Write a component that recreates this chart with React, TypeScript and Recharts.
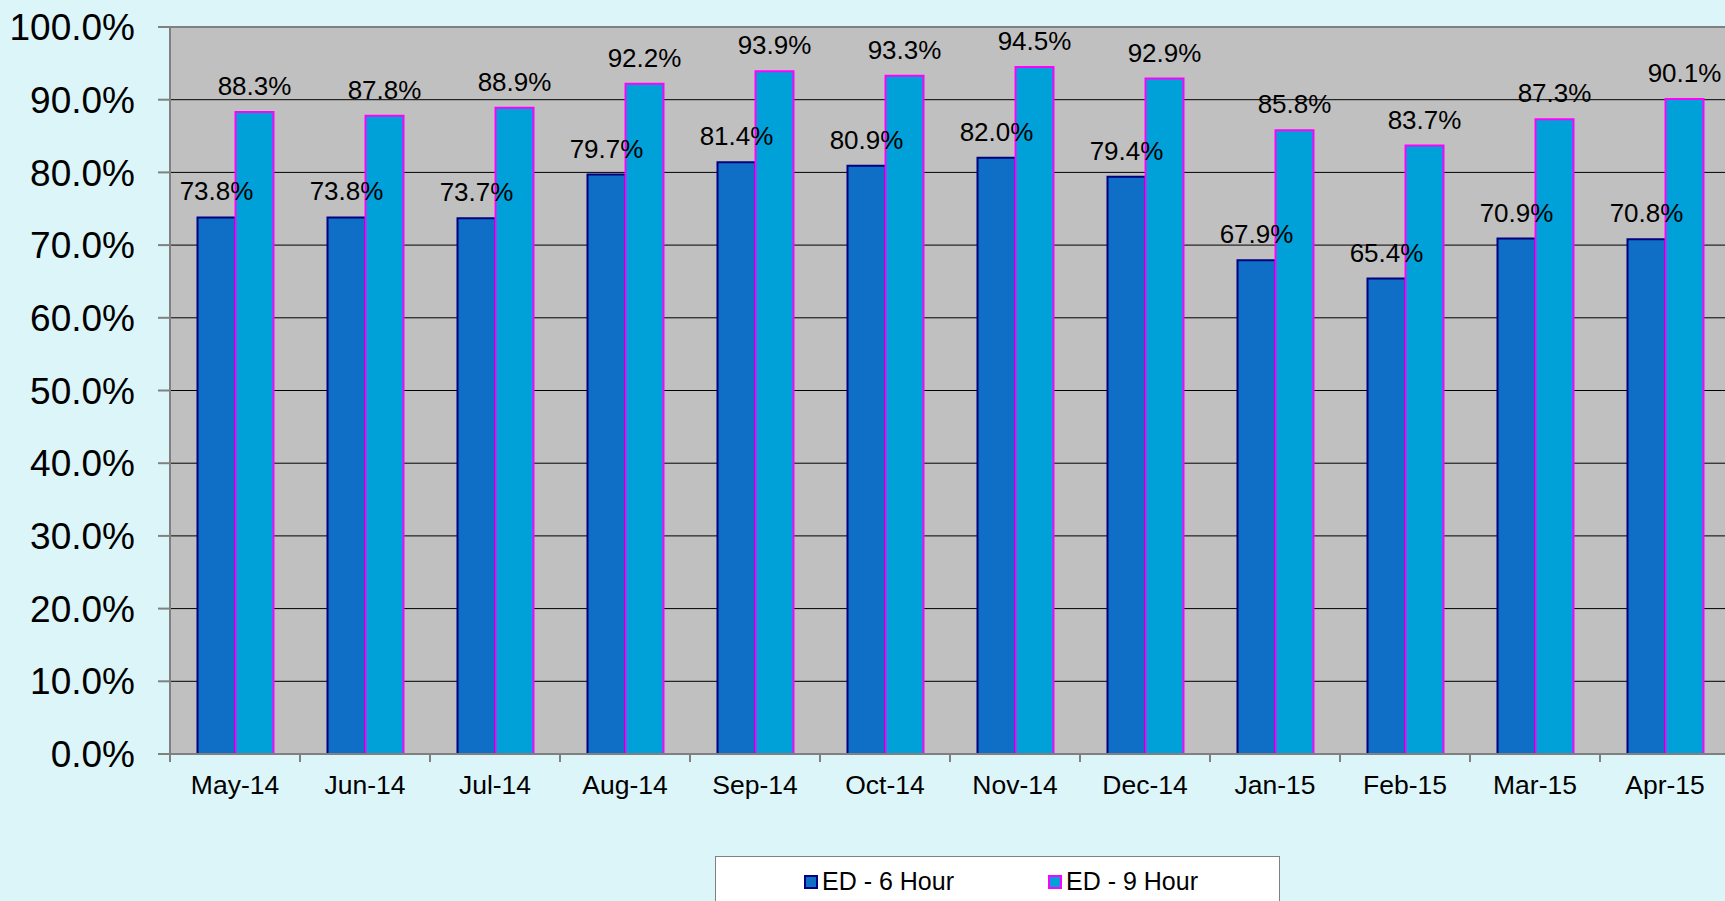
import React from 'react';
import { BarChart, Bar, XAxis, YAxis, CartesianGrid, LabelList, Legend, ReferenceLine } from 'recharts';

const months = ['May-14', 'Jun-14', 'Jul-14', 'Aug-14', 'Sep-14', 'Oct-14', 'Nov-14', 'Dec-14', 'Jan-15', 'Feb-15', 'Mar-15', 'Apr-15'];
const sixHour = [73.8, 73.8, 73.7, 79.7, 81.4, 80.9, 82.0, 79.4, 67.9, 65.4, 70.9, 70.8];
const nineHour = [88.3, 87.8, 88.9, 92.2, 93.9, 93.3, 94.5, 92.9, 85.8, 83.7, 87.3, 90.1];
const yTicks = [0, 10, 20, 30, 40, 50, 60, 70, 80, 90, 100];

const data = months.map((m, i) => ({ month: m, h6: sixHour[i], h9: nineHour[i] }));

const FONT = '"Liberation Sans", Arial, sans-serif';
const fmt = (v: number) => `${Number(v).toFixed(1)}%`;

const XTick = (props: any) => {
  const { x, y, payload, index, visibleTicksCount } = props;
  const off = payload.offset || 0;
  const axisY = y - 8;
  return (
    <g>
      <line x1={x - off} y1={axisY} x2={x - off} y2={axisY + 8} stroke="#808080" strokeWidth={2} />
      {index === visibleTicksCount - 1 && (
        <line x1={x + off} y1={axisY} x2={x + off} y2={axisY + 8} stroke="#808080" strokeWidth={2} />
      )}
      <text x={x} y={axisY + 40} textAnchor="middle" fontSize={26.5} fill="#000" fontFamily={FONT}>
        {payload.value}
      </text>
    </g>
  );
};

const LegendBox = (props: any) => {
  const { payload } = props;
  return (
    <div
      style={{
        width: 565,
        height: 60,
        background: '#fff',
        border: '1px solid #808080',
        boxSizing: 'border-box',
        display: 'flex',
        alignItems: 'flex-start',
        paddingTop: 10,
        paddingLeft: 88,
        fontFamily: FONT,
        fontSize: 25,
        color: '#000',
      }}
    >
      {(payload || []).map((p: any, i: number) => (
        <div key={i} style={{ display: 'flex', alignItems: 'center', marginRight: i === 0 ? 94 : 0 }}>
          <span
            style={{
              display: 'inline-block',
              width: 14,
              height: 14,
              background: p.payload.fill,
              border: `2px solid ${p.payload.stroke}`,
              boxSizing: 'border-box',
              marginRight: 4,
            }}
          />
          <span>{p.value}</span>
        </div>
      ))}
    </div>
  );
};

export default function App() {
  return (
    <div style={{ position: 'absolute', left: 0, top: 0, width: 1725, height: 901, overflow: 'hidden', background: '#DCF5F9' }}>
      <BarChart
        width={1740}
        height={901}
        data={data}
        margin={{ top: 27, right: 10, left: 0, bottom: 87 }}
        barCategoryGap={27.5}
        barGap={0}
      >
        <CartesianGrid horizontal vertical={false} stroke="#000" strokeWidth={1} fill="#C0C0C0" fillOpacity={1} />
        <XAxis
          dataKey="month"
          height={60}
          tick={<XTick />}
          tickLine={false}
          axisLine={{ stroke: '#808080', strokeWidth: 2 }}
          interval={0}
        />
        <YAxis
          width={170}
          domain={[0, 100]}
          ticks={yTicks}
          tickFormatter={fmt}
          tickSize={12}
          tickMargin={23}
          tickLine={{ stroke: '#808080', strokeWidth: 2 }}
          axisLine={{ stroke: '#808080', strokeWidth: 2 }}
          tick={{ fontSize: 37, fill: '#000', fontFamily: FONT }}
          allowDataOverflow
        />
        <ReferenceLine y={100} stroke="#808080" strokeWidth={2} />
        <Legend
          layout="horizontal"
          verticalAlign="middle"
          align="center"
          content={<LegendBox />}
          wrapperStyle={{ left: 715, top: 856, width: 565, height: 60 }}
        />
        <Bar dataKey="h6" name="ED - 6 Hour" fill="#0F6FC6" stroke="#000080" strokeWidth={2} isAnimationActive={false}>
          <LabelList dataKey="h6" position="top" offset={17} formatter={fmt} style={{ fontSize: 26, fill: '#000', fontFamily: FONT }} />
        </Bar>
        <Bar dataKey="h9" name="ED - 9 Hour" fill="#00A0D8" stroke="#FF00FF" strokeWidth={2} isAnimationActive={false}>
          <LabelList dataKey="h9" position="top" offset={17} formatter={fmt} style={{ fontSize: 26, fill: '#000', fontFamily: FONT }} />
        </Bar>
      </BarChart>
    </div>
  );
}
